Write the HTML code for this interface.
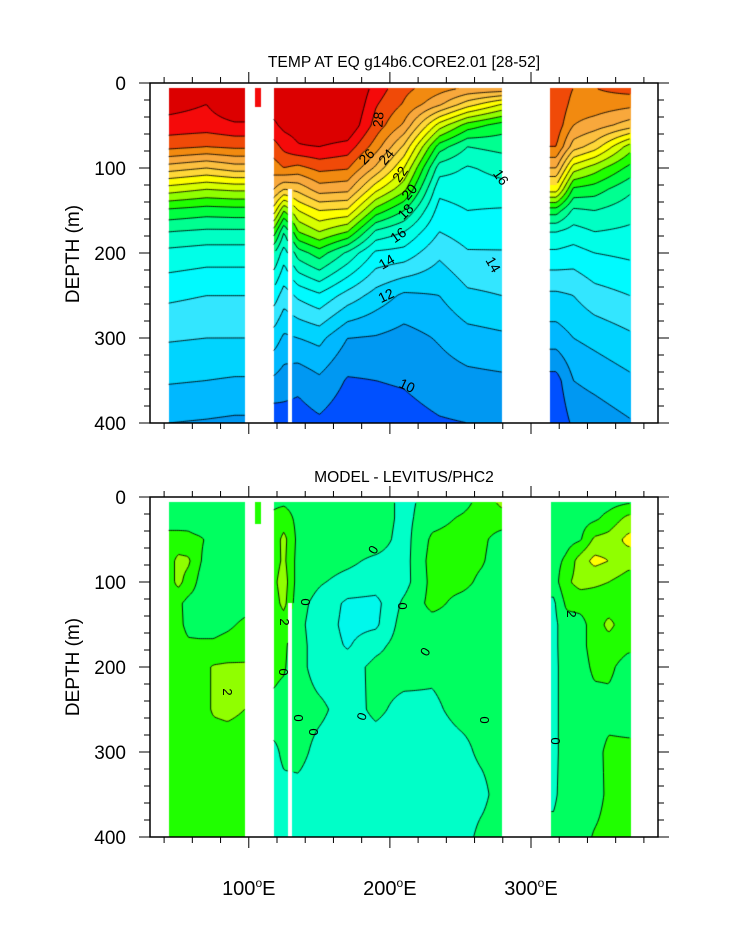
<!DOCTYPE html>
<html><head><meta charset="utf-8">
<style>
html,body{margin:0;padding:0;background:#fff;}
#wrap{position:relative;width:733px;height:945px;overflow:hidden;font-family:"Liberation Sans",Arial,sans-serif;}
canvas{position:absolute;}
svg{position:absolute;left:0;top:0;}
</style></head>
<body>
<div id="wrap">
<canvas id="cTop" width="508" height="340" style="left:150px;top:83px"></canvas>
<canvas id="cBot" width="508" height="340" style="left:150px;top:497px"></canvas>
<svg id="ov" width="733" height="945">
<text x="404" y="67" font-size="15.6" text-anchor="middle">TEMP AT EQ g14b6.CORE2.01 [28-52]</text>
<text x="404" y="482" font-size="15.6" text-anchor="middle">MODEL - LEVITUS/PHC2</text>
<text transform="translate(79,254) rotate(-90)" font-size="19" text-anchor="middle">DEPTH (m)</text>
<text transform="translate(79,667) rotate(-90)" font-size="19" text-anchor="middle">DEPTH (m)</text>
<g font-size="14">
<text transform="translate(383,120) rotate(-85)" text-anchor="middle">28</text>
<text transform="translate(370,160) rotate(-45)" text-anchor="middle">26</text>
<text transform="translate(390,160) rotate(-50)" text-anchor="middle">24</text>
<text transform="translate(404,177) rotate(-55)" text-anchor="middle">22</text>
<text transform="translate(413,195) rotate(-50)" text-anchor="middle">20</text>
<text transform="translate(409,215) rotate(-45)" text-anchor="middle">18</text>
<text transform="translate(401,239) rotate(-35)" text-anchor="middle">16</text>
<text transform="translate(389,266) rotate(-30)" text-anchor="middle">14</text>
<text transform="translate(388,300) rotate(-25)" text-anchor="middle">12</text>
<text transform="translate(405,390) rotate(25)" text-anchor="middle">10</text>
<text transform="translate(497,180) rotate(55)" text-anchor="middle">16</text>
<text transform="translate(489,267) rotate(60)" text-anchor="middle">14</text>
</g>
<g font-size="13">
<text transform="translate(377,552) rotate(-60)" text-anchor="middle">0</text>
<text transform="translate(310,602) rotate(-90)" text-anchor="middle">0</text>
<text transform="translate(407,606) rotate(-90)" text-anchor="middle">0</text>
<text transform="translate(288,672) rotate(-90)" text-anchor="middle">0</text>
<text transform="translate(429,654) rotate(-60)" text-anchor="middle">0</text>
<text transform="translate(303,718) rotate(-90)" text-anchor="middle">0</text>
<text transform="translate(318,732) rotate(-90)" text-anchor="middle">0</text>
<text transform="translate(366,718) rotate(-70)" text-anchor="middle">0</text>
<text transform="translate(489,720) rotate(-90)" text-anchor="middle">0</text>
<text transform="translate(560,741) rotate(-90)" text-anchor="middle">0</text>
<text transform="translate(280,622) rotate(90)" text-anchor="middle">2</text>
<text transform="translate(223,692) rotate(90)" text-anchor="middle">2</text>
<text transform="translate(567,614) rotate(90)" text-anchor="middle">2</text>
</g>
<g id="axes"></g>
</svg>
</div>
<script>
// ---------------- DATA ----------------
const depthLevels = [5, 25, 50, 75, 100, 125, 150, 175, 200, 250, 300, 350, 400];

// Top panel: temperature (deg C)
const tempLonA = [43, 70, 90];
const tempA = [
 [29.6,29.4,28.6,27.3,24.5,21.5,18.8,17.0,15.7,14.2,13.1,12.1,11.0],
 [30.1,29.0,28.5,27.0,24.0,21.0,18.5,16.8,15.5,14.0,13.0,12.0,10.9],
 [30.2,30.0,28.8,27.2,24.5,21.2,18.6,16.8,15.5,14.0,13.0,11.9,10.8]
];
const tempLonBar = [106];
const tempBar = [[28.6,28.5,28.5,28.5,28.5,28.5,28.5,28.5,28.5,28.5,28.5,28.5,28.5]];
const tempLonB = [118, 125, 135, 150, 170, 190, 210, 235, 255, 279];
const tempB = [
 [30.0,29.5,28.8,27.6,26.5,25.0,22.5,19.5,17.0,14.5,12.5,10.8,9.3],
 [30.0,29.8,29.3,28.3,27.0,24.0,20.0,17.0,15.5,13.5,11.8,10.5,9.5],
 [30.3,30.2,29.5,28.9,26.7,24.3,22.0,20.0,17.5,14.2,12.0,10.3,9.5],
 [30.3,30.3,30.0,29.0,27.3,25.5,23.0,21.0,18.5,14.8,12.3,10.8,9.8],
 [30.5,30.4,30.0,28.6,27.1,25.3,22.8,20.0,16.8,13.6,11.0,9.9,9.3],
 [28.6,28.1,27.6,26.5,24.8,22.3,19.6,16.8,14.8,12.6,10.9,10.0,9.5],
 [27.3,26.9,25.8,23.8,22.0,20.3,18.0,16.0,14.6,11.8,10.6,10.1,9.6],
 [26.5,25.2,21.5,18.5,16.5,15.3,14.6,14.0,13.2,12.0,11.1,10.5,9.9],
 [26.0,23.5,19.5,17.0,15.9,15.5,15.0,14.5,13.9,12.8,11.6,10.7,10.0],
 [26.0,22.0,18.5,17.3,16.3,15.7,14.9,14.6,13.9,13.0,11.8,10.8,10.0]
];
const tempLonC = [313, 318, 330, 345, 370];
const tempC = [
 [28.0,27.9,27.6,27.0,25.0,22.5,18.5,16.0,14.8,12.8,11.5,9.6,9.2],
 [28.0,27.9,27.6,27.0,25.0,22.5,18.5,16.0,14.8,12.8,11.5,9.6,9.2],
 [27.0,26.6,26.0,24.5,21.5,18.8,16.8,15.6,14.6,13.0,12.0,11.0,10.2],
 [27.0,26.6,25.5,23.5,20.5,18.5,17.0,16.0,15.0,13.6,12.3,11.3,10.4],
 [27.5,26.3,24.5,20.5,18.7,17.2,16.4,15.8,15.2,14.0,12.8,11.8,10.9]
];
const tempLevels = [9,10,11,12,13,14,15,16,17,18,19,20,21,22,23,24,25,26,27,28,29];

// Bottom panel: model minus observations (deg C)
const diffLonA = [43, 50, 57, 65, 75, 85, 97];
const diffA = [
 [0.5,0.6,1.3,1.5,1.5,1.4,1.5,1.5,1.5,1.5,1.5,1.5,1.5],
 [0.5,0.6,1.3,2.3,2.3,1.2,1.3,1.5,1.5,1.5,1.5,1.5,1.5],
 [0.5,0.7,1.2,2.2,1.6,0.7,0.7,1.2,1.5,1.5,1.5,1.5,1.5],
 [0.5,0.5,1.1,1.1,0.8,0.6,0.6,1.2,1.6,1.6,1.5,1.5,1.5],
 [0.5,0.5,0.8,0.4,0.5,0.6,0.8,1.1,2.1,2.1,1.5,1.5,1.5],
 [0.5,0.5,0.6,0.6,0.6,0.7,0.9,1.2,2.2,2.2,1.5,1.5,1.5],
 [0.5,0.5,0.6,0.6,0.6,0.8,1.1,1.3,2.2,2.0,1.5,1.5,1.5]
];
const diffLonBar = [106];
const diffBar = [[1.5,1.5,1.5,1.5,1.5,1.5,1.5,1.5,1.5,1.5,1.5,1.5,1.5]];
const diffLonB = [118, 125, 135, 150, 170, 190, 210, 230, 250, 265, 279];
const diffB = [
 [0.8,1.2,1.5,1.6,1.8,1.6,1.5,1.4,1.2,0.8,-0.3,-0.5,-0.5],
 [0.8,1.5,2.3,2.2,2.5,2.3,1.5,1.2,1.1,0.6,0.3,-0.4,-0.5],
 [0.6,0.7,0.7,0.6,0.5,0.3,0.2,0.3,0.3,0.4,0.3,-0.3,-0.5],
 [0.6,0.6,0.6,0.4,0.1,-0.3,-0.4,-0.4,-0.4,0.2,-0.3,-0.5,-0.5],
 [0.6,0.6,0.5,0.2,-0.3,-1.2,-1.3,-1.1,-0.5,-0.4,-0.5,-0.5,-0.5],
 [0.6,0.6,0.5,-0.2,-0.5,-1.3,-1.2,-0.3,0.3,0.2,-0.5,-0.5,-0.5],
 [-0.3,-0.3,-0.4,-0.4,-0.4,0.2,0.5,0.5,0.4,-0.3,-0.5,-0.5,-0.5],
 [0.4,0.6,1.2,1.4,1.3,1.3,0.6,0.4,0.2,-0.2,-0.5,-0.5,-0.5],
 [0.6,1.1,1.4,1.4,1.3,0.7,0.6,0.5,0.4,0.3,-0.3,-0.5,-0.5],
 [1.3,1.4,1.2,1.1,0.8,0.6,0.6,0.5,0.5,0.3,0.2,-0.3,0.3],
 [2.3,1.5,0.6,0.5,0.6,0.5,0.5,0.5,0.5,0.5,0.4,0.5,0.5]
];
const diffLonC = [316, 325, 335, 345, 355, 369];
const diffC = [
 [0.5,0.5,0.5,0.6,0.5,-0.2,-0.3,-0.3,-0.3,-0.3,-0.3,-0.2,0.3],
 [0.5,0.6,0.6,1.2,1.8,1.2,0.6,0.6,0.5,0.5,0.5,0.5,0.5],
 [0.5,0.6,0.9,2.5,2.4,1.3,0.7,0.7,0.6,0.6,0.6,0.6,0.6],
 [0.6,0.8,2.2,3.3,2.2,1.4,1.4,1.4,1.2,0.6,0.7,0.6,1.1],
 [0.6,1.3,2.4,3.0,2.0,1.4,2.3,1.5,1.2,0.7,1.2,1.2,1.3],
 [0.8,2.3,3.3,2.4,1.5,1.3,1.3,1.2,0.6,0.6,1.2,1.2,1.3]
];
const diffLevels = [-2,-1,0,1,2,3];

const xTickLabels = ["100", "200", "300"];
const yTickLabels = ["0", "100", "200", "300", "400"];

// ---------------- STYLES / GEOMETRY ----------------
const tempColors = {8:'#0018f0',9:'#0050ff',10:'#0098f2',11:'#00b8ff',12:'#00d4ff',13:'#33e6ff',14:'#00faff',15:'#00ffe8',16:'#00ffc4',17:'#00ff90',18:'#00ff40',19:'#20ff00',20:'#90ff00',21:'#d8ff00',22:'#ffff00',23:'#ffd838',24:'#fcc040',25:'#f8a83c',26:'#f28a10',27:'#f04a08',28:'#f50a0a',29:'#dc0000'};
const diffColors = {'-3':'#00f0ff','-2':'#00f8ec','-1':'#00ffc8','0':'#00ff60','1':'#20ff00','2':'#90ff00','3':'#ffff00'};
const PX0 = 150, PW = 508, PH = 340, LON0 = 30, LON1 = 390;
const kx = PW/(LON1-LON0), ky = 0.85;
const xOf = lon => (lon-LON0)*kx;
const lonOf = px => LON0 + px/kx;
const dOf = py => py/ky;

function clamp(v,a,b){return v<a?a:(v>b?b:v);}
function interp(lons, vals, lon, d){
  let i=0; while(i<lons.length-2 && lon>lons[i+1]) i++;
  let t=0, i2=i;
  if(lons.length>1){ i2=i+1; t=clamp((lon-lons[i])/(lons[i2]-lons[i]),0,1); }
  let j=0; while(j<depthLevels.length-2 && d>depthLevels[j+1]) j++;
  const u=clamp((d-depthLevels[j])/(depthLevels[j+1]-depthLevels[j]),0,1);
  const a=vals[i][j], b=vals[i][j+1], c=vals[i2][j], e=vals[i2][j+1];
  return (a*(1-u)+b*u)*(1-t) + (c*(1-u)+e*u)*t;
}
function hexRgb(h){return [parseInt(h.substr(1,2),16),parseInt(h.substr(3,2),16),parseInt(h.substr(5,2),16)];}

function drawPanel(canvasId, segs, levels, colorFor){
  const cv=document.getElementById(canvasId), ctx=cv.getContext('2d');
  const img=ctx.createImageData(PW,PH);
  const valueAt=(seg,px,py)=>{
    const lon=lonOf(px), d=dOf(py);
    if(d<5.5 || d>seg.dmax) return NaN;
    if(seg.gap && lon>=seg.gap[0] && lon<=seg.gap[1] && d>=seg.gap[2]) return NaN;
    return interp(seg.lons, seg.vals, lon, d);
  };
  segs.forEach(seg=>{
    const x0=Math.round(xOf(seg.lo)), x1=Math.round(xOf(seg.hi));
    for(let px=x0; px<x1; px++){
      for(let py=0; py<PH; py++){
        const v=valueAt(seg,px+0.5,py+0.5);
        if(isNaN(v)) continue;
        const rgb=hexRgb(colorFor(v));
        const k=(py*PW+px)*4;
        img.data[k]=rgb[0]; img.data[k+1]=rgb[1]; img.data[k+2]=rgb[2]; img.data[k+3]=255;
      }
    }
  });
  ctx.putImageData(img,0,0);
  ctx.strokeStyle='#000'; ctx.lineWidth=0.9;
  ctx.beginPath();
  const S=2;
  segs.forEach(seg=>{
    const x0=xOf(seg.lo), x1=xOf(seg.hi);
    const nx=Math.floor((x1-x0)/S), ny=Math.floor(PH/S);
    const g=[];
    for(let iy=0; iy<=ny; iy++){ const row=[]; for(let ix=0; ix<=nx; ix++){ row.push(valueAt(seg, x0+ix*S, iy*S)); } g.push(row); }
    levels.forEach(L=>{
      for(let iy=0; iy<ny; iy++) for(let ix=0; ix<nx; ix++){
        const a=g[iy][ix], b=g[iy][ix+1], c=g[iy+1][ix+1], d=g[iy+1][ix];
        if(isNaN(a)||isNaN(b)||isNaN(c)||isNaN(d)) continue;
        const X=x0+ix*S, Y=iy*S, pts=[];
        if((a-L)*(b-L)<0) pts.push([X+S*(L-a)/(b-a), Y]);
        if((b-L)*(c-L)<0) pts.push([X+S, Y+S*(L-b)/(c-b)]);
        if((d-L)*(c-L)<0) pts.push([X+S*(L-d)/(c-d), Y+S]);
        if((a-L)*(d-L)<0) pts.push([X, Y+S*(L-a)/(d-a)]);
        for(let p=0; p+1<pts.length; p+=2){ ctx.moveTo(pts[p][0],pts[p][1]); ctx.lineTo(pts[p+1][0],pts[p+1][1]); }
      }
    });
  });
  ctx.stroke();
}
const tempColorFor = v => tempColors[clamp(Math.floor(v),8,29)];
const diffColorFor = v => diffColors[String(clamp(Math.floor(v),-3,3))];

drawPanel('cTop', [
  {lo:43.2, hi:97.4, lons:tempLonA, vals:tempA, dmax:999},
  {lo:104.5, hi:108.6, lons:tempLonBar, vals:tempBar, dmax:28},
  {lo:117.6, hi:279.6, lons:tempLonB, vals:tempB, dmax:999, gap:[127.8,130.6,125]},
  {lo:313.2, hi:370.6, lons:tempLonC, vals:tempC, dmax:999}
], tempLevels, tempColorFor);

drawPanel('cBot', [
  {lo:43.2, hi:97.4, lons:diffLonA, vals:diffA, dmax:999},
  {lo:104.5, hi:108.6, lons:diffLonBar, vals:diffBar, dmax:32},
  {lo:117.6, hi:279.6, lons:diffLonB, vals:diffB, dmax:999, gap:[127.8,130.6,125]},
  {lo:314.5, hi:370.6, lons:diffLonC, vals:diffC, dmax:999}
], diffLevels, diffColorFor);

// ---------------- AXES ----------------
const NS='http://www.w3.org/2000/svg';
const axes=document.getElementById('axes');
function el(tag, attrs, parent){ const e=document.createElementNS(NS,tag); for(const k in attrs) e.setAttribute(k,attrs[k]); (parent||axes).appendChild(e); return e; }
[{top:83, name:'top'},{top:497, name:'bottom'}].forEach(p=>{
  const g=el('g',{});
  
  
  const fr=el('rect',{x:PX0,y:p.top,width:PW,height:PH,fill:'none',stroke:'#000','stroke-width':1.5},g);
  
  
  for(let lon=40; lon<=380; lon+=20){
    const x=PX0+xOf(lon), major=(lon%100===0), len=major?11:6;
    el('line',{x1:x,y1:p.top,x2:x,y2:p.top-len,stroke:'#000','stroke-width':1},g);
    el('line',{x1:x,y1:p.top+PH,x2:x,y2:p.top+PH+len,stroke:'#000','stroke-width':1},g);
  }
  for(let d=0; d<=400; d+=20){
    const y=p.top+d*ky, major=(d%100===0), len=major?11:6;
    el('line',{x1:PX0,y1:y,x2:PX0-len,y2:y,stroke:'#000','stroke-width':1},g);
    el('line',{x1:PX0+PW,y1:y,x2:PX0+PW+len,y2:y,stroke:'#000','stroke-width':1},g);
  }
  yTickLabels.forEach((lab,i)=>{
    const t=el('text',{x:126,y:p.top+i*100*ky+7,'font-size':19,'text-anchor':'end'},g);
    t.textContent=lab;
    
    
  });
});
xTickLabels.forEach((lab,i)=>{
  const x=PX0+xOf(100*(i+1));
  const t=el('text',{x:x,y:895,'font-size':20,'text-anchor':'middle'});
  
  
  const s1=el('tspan',{},t); s1.textContent=lab;
  const s2=el('tspan',{'font-size':12,dy:-8},t); s2.textContent='o';
  const s3=el('tspan',{dy:8},t); s3.textContent='E';
});
</script>
</body></html>
